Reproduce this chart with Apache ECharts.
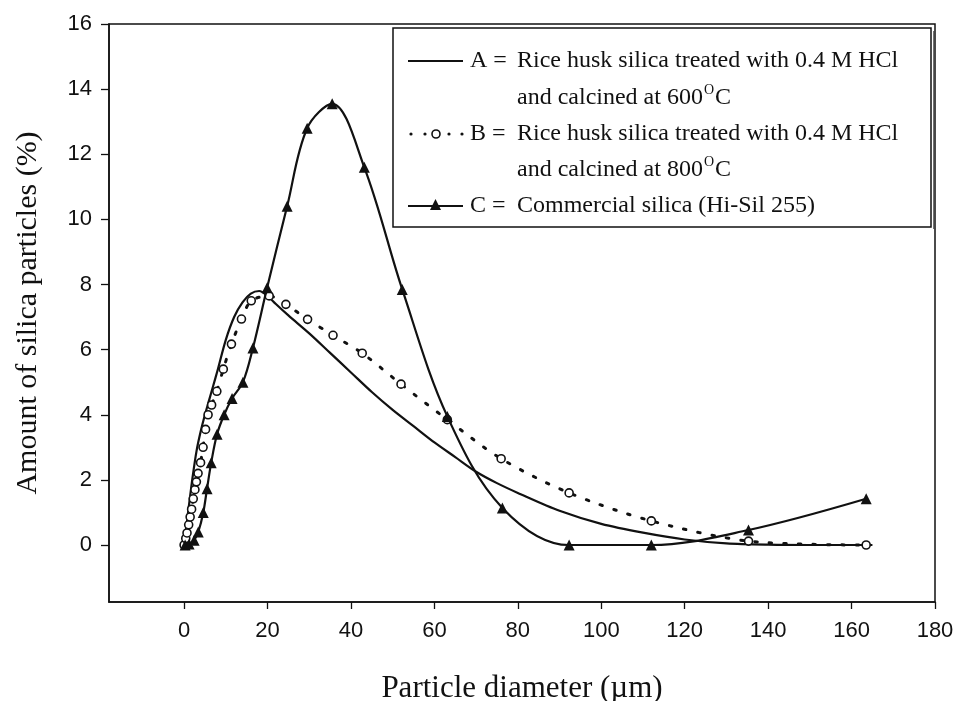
<!DOCTYPE html>
<html>
<head>
<meta charset="utf-8">
<script src="https://cdn.jsdelivr.net/npm/echarts@6/dist/echarts.min.js"></script>
<style>
  html, body { margin: 0; padding: 0; background: #fff; }
  #chart { width: 957px; height: 701px; }
</style>
</head>
<body>
<div id="chart"></div>
<script>
// Particle size distribution of silica samples (%, vs particle diameter in µm)

// A: rice husk silica, 0.4 M HCl, calcined at 600 °C (smooth curve, no markers)
const aX = [0, 1, 2, 3, 4, 5, 6, 7, 8, 10, 12, 14, 16, 18, 20, 22, 25, 30, 35, 40, 45, 50, 55, 60, 65, 70, 75, 80, 90, 100, 110, 120, 130, 140, 150, 165];
const aY = [0, 1.05, 2.05, 2.9, 3.5, 4.0, 4.45, 4.9, 5.35, 6.3, 7.0, 7.45, 7.72, 7.8, 7.65, 7.4, 7.05, 6.5, 5.9, 5.3, 4.7, 4.15, 3.65, 3.15, 2.7, 2.25, 1.9, 1.6, 1.05, 0.65, 0.38, 0.17, 0.05, 0.01, 0, 0];

// B: rice husk silica, 0.4 M HCl, calcined at 800 °C (open circles, dotted)
const bX = [0, 0.4, 0.7, 1.1, 1.45, 1.8, 2.2, 2.6, 2.95, 3.35, 3.95, 4.55, 5.15, 5.75, 6.6, 7.85, 9.4, 11.35, 13.75, 16.1, 20.4, 24.4, 29.6, 35.7, 42.7, 52, 63.1, 76, 92.3, 112, 135.3, 163.5];
const bY = [0, 0.2, 0.37, 0.62, 0.86, 1.1, 1.42, 1.7, 1.94, 2.2, 2.53, 3.0, 3.55, 4.0, 4.3, 4.72, 5.4, 6.17, 6.94, 7.5, 7.65, 7.39, 6.93, 6.44, 5.89, 4.94, 3.85, 2.65, 1.6, 0.74, 0.12, 0];

// C: commercial silica Hi-Sil 255 (filled triangles)
const cX = [0.25, 1.2, 2.4, 3.4, 4.6, 5.5, 6.5, 7.9, 9.6, 11.5, 14.1, 16.5, 19.9, 24.7, 29.5, 35.5, 43.2, 52.3, 63.1, 76.3, 92.3, 112, 135.3, 163.5];
const cY = [0, 0.03, 0.15, 0.4, 1.0, 1.73, 2.53, 3.4, 4.0, 4.5, 5.0, 6.05, 7.9, 10.4, 12.8, 13.55, 11.6, 7.85, 3.95, 1.14, 0, 0, 0.46, 1.42];

const xTicks = [0, 20, 40, 60, 80, 100, 120, 140, 160, 180];
const yTicks = [0, 2, 4, 6, 8, 10, 12, 14, 16];

const legendLabels = [
  ['A = ', 'Rice husk silica treated with 0.4 M HCl', 'and calcined at 600{sup|O}C'],
  ['B = ', 'Rice husk silica treated with 0.4 M HCl', 'and calcined at 800{sup|O}C'],
  ['C = ', 'Commercial silica (Hi-Sil 255)', '']
];

const pairs = (xs, ys) => xs.map((x, i) => [x, ys[i]]);

const INK = '#111';
const serif = '"Liberation Serif", "DejaVu Serif", serif';
const sans = '"Liberation Sans", Arial, sans-serif';

// legend box drawn with graphic primitives
const LX = 393, LY = 28, LW = 538, LH = 199;
const sampleX1 = 408, sampleX2 = 463, keyX = 470, textX = 517;
const rowY = [61, 98, 134, 170, 206];
const legendText = (x, y, txt) => ({
  type: 'text', x: x, y: y,
  style: {
    text: txt, font: '24px ' + serif, fill: INK, verticalAlign: 'middle',
    rich: { sup: { font: '14px ' + serif, fill: INK, verticalAlign: 'top', padding: [0, 1, 15, 1] } }
  }
});
const graphics = [
  { type: 'rect', shape: { x: LX, y: LY, width: LW, height: LH }, style: { fill: '#fff', stroke: INK, lineWidth: 1.5 }, z: 10 },
  { type: 'line', shape: { x1: LX + LW + 3, y1: LY + 3, x2: LX + LW + 3, y2: LY + LH + 2 }, style: { stroke: '#444', lineWidth: 1.5 }, z: 10 },
  // A sample
  { type: 'line', shape: { x1: sampleX1, y1: rowY[0], x2: sampleX2, y2: rowY[0] }, style: { stroke: INK, lineWidth: 2.2 }, z: 11 },
  // B sample: dots and open circle
  { type: 'circle', shape: { cx: 411, cy: rowY[2], r: 1.6 }, style: { fill: INK }, z: 11 },
  { type: 'circle', shape: { cx: 425, cy: rowY[2], r: 1.6 }, style: { fill: INK }, z: 11 },
  { type: 'circle', shape: { cx: 436, cy: rowY[2], r: 4 }, style: { fill: '#fff', stroke: INK, lineWidth: 1.6 }, z: 11 },
  { type: 'circle', shape: { cx: 449, cy: rowY[2], r: 1.6 }, style: { fill: INK }, z: 11 },
  { type: 'circle', shape: { cx: 462, cy: rowY[2], r: 1.6 }, style: { fill: INK }, z: 11 },
  // C sample
  { type: 'line', shape: { x1: sampleX1, y1: rowY[4], x2: sampleX2, y2: rowY[4] }, style: { stroke: INK, lineWidth: 2.2 }, z: 11 },
  { type: 'polygon', shape: { points: [[435.5, rowY[4] - 7], [430, rowY[4] + 4], [441, rowY[4] + 4]] }, style: { fill: INK }, z: 11 }
];
[0, 1, 2].forEach(i => {
  const r1 = rowY[i * 2];
  graphics.push(Object.assign(legendText(keyX, r1, legendLabels[i][0]), { z: 11 }));
  graphics.push(Object.assign(legendText(textX, r1, legendLabels[i][1]), { z: 11 }));
  if (legendLabels[i][2]) {
    graphics.push(Object.assign(legendText(textX, rowY[i * 2 + 1], legendLabels[i][2]), { z: 11 }));
  }
});

const chart = echarts.init(document.getElementById('chart'), null, { renderer: 'canvas' });
chart.setOption({
  backgroundColor: '#fff',
  animation: false,
  grid: {
    left: 109, right: 22, top: 24, bottom: 99, outerBoundsMode: 'none', containLabel: false,
    show: true, borderColor: INK, borderWidth: 1.5, backgroundColor: 'transparent'
  },
  xAxis: {
    type: 'value', min: -18, max: 180,
    axisLine: { show: true, onZero: false, lineStyle: { color: INK, width: 1.5 } },
    axisTick: { show: true, customValues: xTicks, length: 7, lineStyle: { color: INK, width: 1.3 } },
    axisLabel: { customValues: xTicks, margin: 18, fontFamily: sans, fontSize: 22, color: INK },
    splitLine: { show: false },
    name: 'Particle diameter (\u00b5m)', nameLocation: 'middle', nameGap: 71,
    nameTextStyle: { fontFamily: serif, fontSize: 31, color: INK }
  },
  yAxis: {
    type: 'value', min: -1.75, max: 16,
    axisLine: { show: true, onZero: false, lineStyle: { color: INK, width: 1.5 } },
    axisTick: { show: true, customValues: yTicks, length: 8, lineStyle: { color: INK, width: 1.3 } },
    axisLabel: { customValues: yTicks, margin: 17, fontFamily: sans, fontSize: 22, color: INK },
    splitLine: { show: false },
    name: 'Amount of silica particles (%)', nameLocation: 'middle', nameGap: 66,
    nameTextStyle: { fontFamily: serif, fontSize: 30, color: INK }
  },
  graphic: graphics,
  series: [
    {
      name: 'A', type: 'line', data: pairs(aX, aY), smooth: 0.3, showSymbol: false, symbol: 'none',
      lineStyle: { color: INK, width: 2.2 }, z: 2
    },
    {
      name: 'B', type: 'line', data: pairs(bX, bY), smooth: 0.3, symbol: 'circle', symbolSize: 8,
      itemStyle: { color: '#fff', borderColor: INK, borderWidth: 1.6 },
      lineStyle: { color: INK, width: 3, type: [2.5, 12], cap: 'round' }, z: 3
    },
    {
      name: 'C', type: 'line', data: pairs(cX, cY), smooth: 0.35, symbol: 'triangle', symbolSize: 11,
      itemStyle: { color: INK }, lineStyle: { color: INK, width: 2.2 }, z: 4
    }
  ]
});
</script>
</body>
</html>
